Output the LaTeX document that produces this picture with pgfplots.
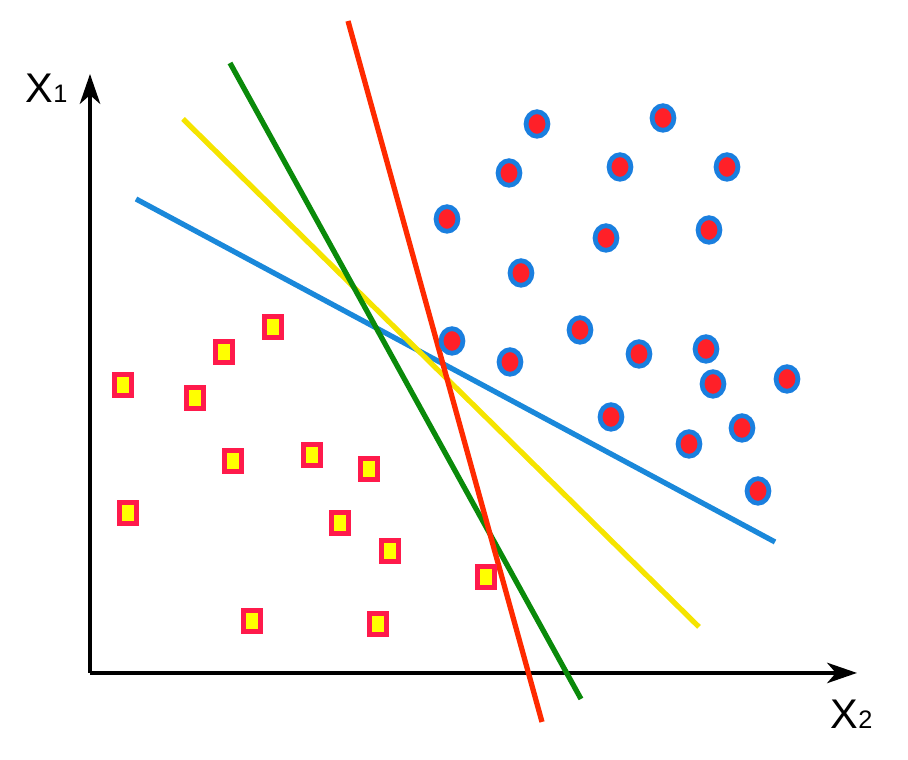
\documentclass[border=0pt]{standalone}
\usepackage{fontspec}
\setmainfont{Liberation Sans}
\usepackage{pgfplots}
\pgfplotsset{compat=1.18}
\usetikzlibrary{arrows.meta}

\definecolor{lred}{HTML}{FF2A00}
\definecolor{lgreen}{HTML}{0A8A0A}
\definecolor{lyellow}{HTML}{F5E400}
\definecolor{lblue}{HTML}{1A88DA}
\definecolor{sqborder}{HTML}{FF1A4B}
\definecolor{sqfill}{HTML}{FFFF00}
\definecolor{ring}{HTML}{1A7FDF}
\definecolor{dot}{HTML}{FF2028}

\begin{document}
\begin{tikzpicture}
\begin{axis}[
  width=9.08cm, height=7.6cm, scale only axis,
  hide axis, clip=false,
  xmin=0, xmax=908, ymin=0, ymax=760,
  y dir=reverse,
]
% frame for the bounding box
\addplot[draw=none, forget plot] coordinates {(0,0) (908,760)};

% axes
\addplot[black, line width=1.1pt, -{Stealth[length=8.5pt,width=5.8pt,inset=2.5pt]}]
  coordinates {(90,673) (857,673)};
\addplot[black, line width=1.1pt, -{Stealth[length=8.5pt,width=5.8pt,inset=2.5pt]}]
  coordinates {(90,673) (90,74)};

% separating lines
\addplot[lblue, line width=1.5pt] coordinates {(136,199) (775,542)};
\addplot[lyellow, line width=1.5pt] coordinates {(183,119) (699,627)};
\addplot[lgreen, line width=1.5pt] coordinates {(230,63) (581,699)};
\addplot[lred, line width=1.5pt] coordinates {(348,21) (542,722)};

% class 1: squares
\addplot[only marks, mark=square*, mark size=2.95pt,
  mark options={draw=sqborder, fill=sqfill, line width=1.45pt, xscale=0.84}]
  coordinates {
  (273,327) (224,352) (123,385) (195,398) (233,461) (312,455) (369,469)
  (128,513) (340,523) (390,551) (486,577) (252,621) (378,624)
};

% class 2: circles
\addplot[only marks, mark=*, mark size=3.5pt,
  mark options={draw=ring, fill=dot, line width=1.35pt, xscale=0.89}]
  coordinates {
  (537,124) (663,118) (509,173) (620,167) (727,167) (447,219) (606,238)
  (709,230) (521,273) (452,341) (510,362) (580,330) (639,354) (706,349)
  (713,384) (787,379) (611,417) (689,444) (742,428) (758,491)
};

\node[anchor=base west, inner sep=0pt, font=\fontsize{11.8}{13}\selectfont]
  at (axis cs:25,103) {X{\fontsize{7.2}{8}\selectfont 1}};
\node[anchor=base west, inner sep=0pt, font=\fontsize{11.8}{13}\selectfont]
  at (axis cs:830,729) {X{\fontsize{7.2}{8}\selectfont 2}};
\end{axis}
\end{tikzpicture}
\end{document}
